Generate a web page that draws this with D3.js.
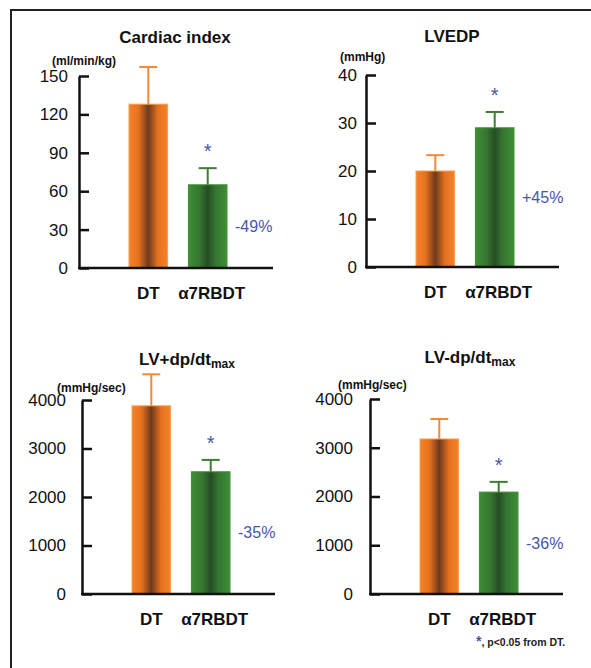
<!DOCTYPE html>
<html>
<head>
<meta charset="utf-8">
<script src="https://cdn.jsdelivr.net/npm/d3@7"></script>
<style>
  body { margin: 0; background: #fff; }
  svg { display: block; }
  text { font-family: "Liberation Sans", Arial, sans-serif; }
</style>
</head>
<body>
<div id="chart"></div>
<script>
// --- Data ---
const categories = ["DT", "α7RBDT"];
const titles = ["Cardiac index", "LVEDP", "LV+dp/dt", "LV-dp/dt"];
const titleSubs = ["", "", "max", "max"];
const units = ["(ml/min/kg)", "(mmHg)", "(mmHg/sec)", "(mmHg/sec)"];
const yMax = [150, 40, 4000, 4000];
const yTicks = [
  [0, 30, 60, 90, 120, 150],
  [0, 10, 20, 30, 40],
  [0, 1000, 2000, 3000, 4000],
  [0, 1000, 2000, 3000, 4000]
];
const means = [[128, 65], [20, 29], [3880, 2520], [3180, 2090]];
const errors = [[29, 13], [3.3, 3.3], [650, 245], [410, 210]];
const changes = ["-49%", "+45%", "-35%", "-36%"];
const significant = [[false, true], [false, true], [false, true], [false, true]];
const footnote = ", p<0.05 from DT.";

// --- Layout (pixels) ---
const width = 591;
const height = 668;
const panels = [
  { x: 79, top: 76, bottom: 268, right: 273, tickPad: 11, titleX: 175, titleY: 43, unitDx: -27, unitDy: -11 },
  { x: 366, top: 75, bottom: 267, right: 559, tickPad: 9, titleX: 452, titleY: 42, unitDx: -26, unitDy: -14 },
  { x: 82, top: 400, bottom: 594, right: 275, tickPad: 16, titleX: 187, titleY: 365, unitDx: -25, unitDy: -8 },
  { x: 370, top: 399, bottom: 594, right: 563, tickPad: 17, titleX: 470, titleY: 363, unitDx: -32, unitDy: -10 }
];
const blue = "#4656ad";
const barStroke = ["#f7a055", "#3f8f33"];
const errColor = ["#f08a35", "#3d7d32"];

const svg = d3.select("#chart").append("svg")
  .attr("width", width)
  .attr("height", height);

// --- Gradients for bars ---
const defs = svg.append("defs");
const gradStops = [
  [["0%", "#f6832a"], ["25%", "#e5711f"], ["50%", "#6e3b1e"], ["75%", "#e5711f"], ["100%", "#f6832a"]],
  [["0%", "#3f8e36"], ["30%", "#357531"], ["50%", "#274d24"], ["70%", "#357531"], ["100%", "#3f8e36"]]
];
gradStops.forEach((stops, i) => {
  const g = defs.append("linearGradient")
    .attr("id", "grad" + i)
    .attr("x1", "0%").attr("x2", "100%").attr("y1", "0%").attr("y2", "0%");
  stops.forEach(s => g.append("stop").attr("offset", s[0]).attr("stop-color", s[1]));
});

// --- Frame (top and left lines only) ---
svg.append("line").attr("x1", 10).attr("x2", width).attr("y1", 10).attr("y2", 10)
  .attr("stroke", "#222").attr("stroke-width", 2);
svg.append("line").attr("x1", 11).attr("x2", 11).attr("y1", 10).attr("y2", height)
  .attr("stroke", "#222").attr("stroke-width", 2);

// --- Panels ---
panels.forEach((p, k) => {
  const y = d3.scaleLinear().domain([0, yMax[k]]).range([p.bottom, p.top]);
  const x = d3.scaleBand().domain(categories)
    .range([p.x + 50, p.x + 148])
    .paddingInner(0.35).paddingOuter(0);

  const g = svg.append("g");

  // bars
  categories.forEach((c, i) => {
    const bx = x(c), bw = x.bandwidth();
    const top = y(means[k][i]);
    const errTop = y(means[k][i] + errors[k][i]);
    const cx = bx + bw / 2;

    // error bar (upward only)
    g.append("line").attr("x1", cx).attr("x2", cx).attr("y1", top).attr("y2", errTop)
      .attr("stroke", errColor[i]).attr("stroke-width", 2);
    g.append("line").attr("x1", cx - 9).attr("x2", cx + 9).attr("y1", errTop).attr("y2", errTop)
      .attr("stroke", errColor[i]).attr("stroke-width", 2);

    g.append("rect")
      .attr("x", bx).attr("y", top)
      .attr("width", bw).attr("height", p.bottom - top)
      .attr("fill", `url(#grad${i})`)
      .attr("stroke", barStroke[i]).attr("stroke-width", 1);

    if (significant[k][i]) {
      g.append("text")
        .attr("x", cx).attr("y", errTop - 21 + 11)
        .attr("text-anchor", "middle")
        .style("font-size", "20px")
        .style("fill", blue)
        .text("*");
    }
    if (i === 1) {
      g.append("text")
        .attr("x", bx + bw + 8).attr("y", (top + p.bottom) / 2)
        .attr("dy", "0.35em")
        .style("font-size", "16px")
        .style("fill", blue)
        .text(changes[k]);
    }
  });

  // y axis, ticks pointing inward
  const axis = d3.axisLeft(y)
    .tickValues(yTicks[k])
    .tickSizeInner(-10)
    .tickSizeOuter(0)
    .tickPadding(p.tickPad)
    .tickFormat(d3.format("d"));
  const ag = g.append("g").attr("transform", `translate(${p.x},0)`).call(axis);
  ag.select(".domain").attr("stroke", "#111").attr("stroke-width", 2.5);
  ag.selectAll(".tick line").attr("stroke", "#111").attr("stroke-width", 2.5);
  ag.selectAll(".tick text")
    .attr("fill", "#111")
    .style("font-family", "'Liberation Sans', Arial, sans-serif")
    .style("font-size", "17px");

  // x axis line
  g.append("line")
    .attr("x1", p.x - 1).attr("x2", p.right)
    .attr("y1", p.bottom).attr("y2", p.bottom)
    .attr("stroke", "#111").attr("stroke-width", 2.5);

  // category labels
  categories.forEach(c => {
    g.append("text")
      .attr("x", x(c) + x.bandwidth() / 2 + (c === "DT" ? 0 : 4))
      .attr("y", p.bottom + 31)
      .attr("text-anchor", "middle")
      .style("font-size", "17px")
      .style("font-weight", "bold")
      .style("fill", "#111")
      .text(c);
  });

  // title
  const t = g.append("text")
    .attr("x", p.titleX).attr("y", p.titleY)
    .attr("text-anchor", "middle")
    .style("font-size", "17px")
    .style("font-weight", "bold")
    .style("fill", "#111")
    .text(titles[k]);
  if (titleSubs[k]) {
    t.append("tspan")
      .attr("dy", 3)
      .style("font-size", "12px")
      .text(titleSubs[k]);
  }

  // units
  g.append("text")
    .attr("x", p.x + p.unitDx).attr("y", p.top + p.unitDy)
    .style("font-size", "12px")
    .style("font-weight", "bold")
    .style("fill", "#111")
    .text(units[k]);
});

// --- Footnote ---
const fn = svg.append("text")
  .attr("x", 476).attr("y", 646)
  .style("font-size", "10.5px")
  .style("font-weight", "bold")
  .style("fill", "#222");
fn.append("tspan").style("fill", blue).style("font-size", "14px").text("*");
fn.append("tspan").text(footnote);
</script>
</body>
</html>
